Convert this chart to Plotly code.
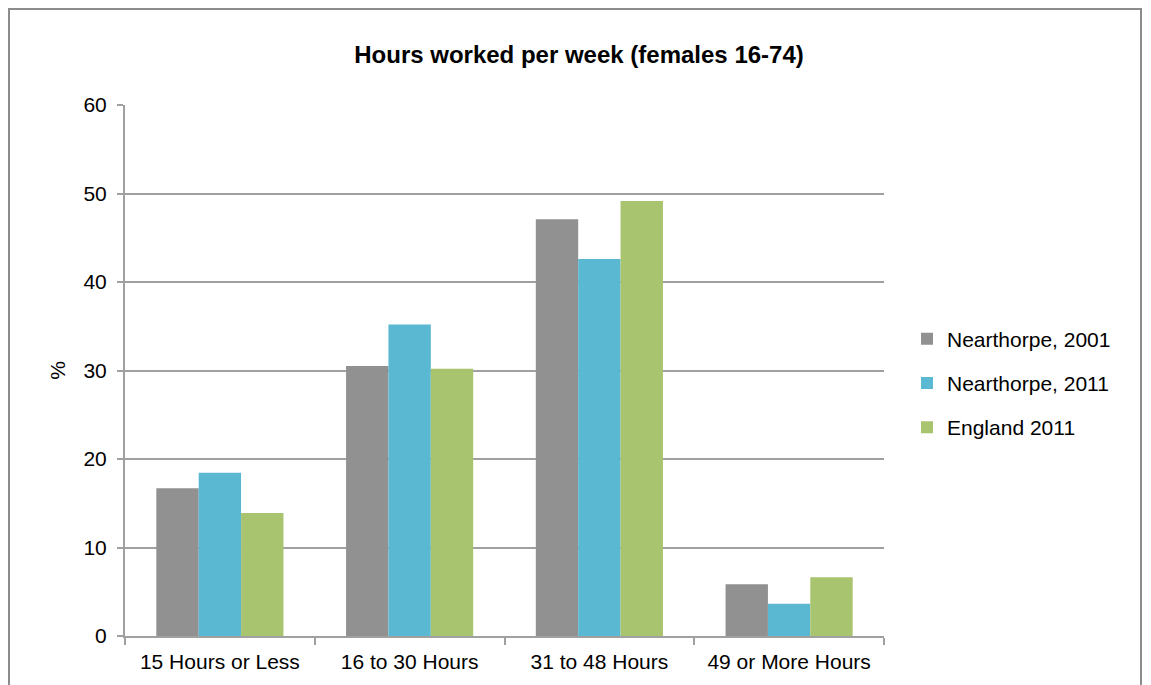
import plotly.graph_objects as go

categories = ["15 Hours or Less", "16 to 30 Hours", "31 to 48 Hours", "49 or More Hours"]
series_names = ["Nearthorpe, 2001", "Nearthorpe, 2011", "England 2011"]
nearthorpe_2001 = [16.7, 30.5, 47.1, 5.85]
nearthorpe_2011 = [18.45, 35.2, 42.6, 3.65]
england_2011 = [13.9, 30.2, 49.15, 6.65]
colors = ["#919191", "#5BB8D2", "#A9C46E"]

fig = go.Figure()
for i, (name, vals, col) in enumerate(zip(series_names, [nearthorpe_2001, nearthorpe_2011, england_2011], colors)):
    fig.add_trace(go.Bar(x=categories, y=vals, name=name, legendgroup=f"g{i}",
                         marker=dict(color=col, line=dict(width=0))))

# page body has an 8px margin; compensate so the screenshot lines up
OFF = 8
W, H = 1151, 685
L, R, T, B = 125 - OFF, 267 + OFF, 105 - OFF, 49 + OFF
pw = W - L - R
ph = H - T - B

fig.update_layout(
    width=W, height=H,
    margin=dict(l=L, r=R, t=T, b=B),
    paper_bgcolor="white", plot_bgcolor="white",
    font=dict(family="Liberation Sans, Arial, sans-serif", size=21, color="#000000"),
    title=dict(text="<b>Hours worked per week (females 16-74)</b>", x=(579 - OFF - L) / pw, xref="paper",
               xanchor="center", y=1 - (55 - OFF) / H, yanchor="middle", font=dict(size=24, color="#000000")),
    barmode="group", bargap=0.33, bargroupgap=0,
    showlegend=True,
    legend=dict(x=(907 - OFF - L) / pw, y=1 - (383 - OFF - T) / ph, xanchor="left", yanchor="middle",
                font=dict(size=21), itemwidth=30, tracegroupgap=14, bgcolor="rgba(0,0,0,0)"),
    xaxis=dict(showline=True, linecolor="#A0A0A0", linewidth=2, ticks="outside", tickson="boundaries",
               ticklen=7, tickcolor="#A0A0A0", tickwidth=2, showgrid=False, tickfont=dict(size=21),
               ticklabelstandoff=6),
    yaxis=dict(range=[0, 60], dtick=10, showline=True, linecolor="#A0A0A0", linewidth=2,
               ticks="outside", ticklen=6, tickcolor="#A0A0A0", tickwidth=2,
               showgrid=True, gridcolor="#A0A0A0", gridwidth=2, zeroline=False, ticklabelstandoff=6,
               title=dict(text="%", standoff=12, font=dict(size=21)), tickfont=dict(size=21)),
    shapes=[dict(type="rect", xref="paper", yref="paper",
                 x0=(1 - L) / pw, x1=(1133 - L) / pw,
                 y0=-0.3, y1=(H - B - (9 - OFF)) / ph,
                 line=dict(color="#8C8C8C", width=2), fillcolor="rgba(0,0,0,0)", layer="below")],
)

fig.write_html("out.html")
